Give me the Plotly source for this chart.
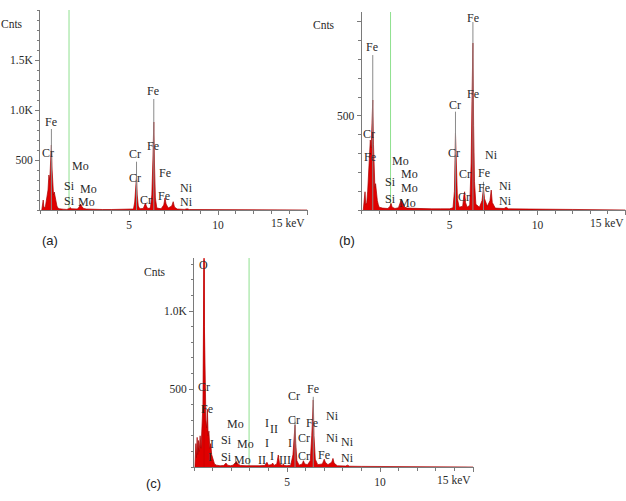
import plotly.graph_objects as go

W, H = 626, 501

# ---------------- data (keV, counts) ----------------
# Panel (a)
energy_a = [0.10, 0.15, 0.18, 0.21, 0.25, 0.30, 0.35, 0.40, 0.45, 0.50, 0.55, 0.60, 0.64, 0.68, 0.72, 0.76,
            0.80, 0.85, 0.90, 0.95, 1.0, 1.1, 1.3, 1.5, 1.65, 1.70, 1.75, 1.9, 2.1, 2.2, 2.28, 2.35, 2.45,
            2.6, 3.0, 3.5, 4.0, 4.5, 5.0, 5.25, 5.32, 5.38, 5.42, 5.46, 5.52, 5.60, 5.8, 5.88, 5.92, 5.97,
            6.05, 6.2, 6.28, 6.34, 6.39, 6.43, 6.48, 6.56, 6.8, 6.95, 7.02, 7.08, 7.2, 7.4, 7.48, 7.55,
            7.7, 8.1, 8.26, 8.4, 9.0, 10.0, 12.0, 15.0]
counts_a = [0, 60, 100, 40, 20, 30, 80, 120, 200, 350, 300, 500, 650, 400, 250, 150,
            180, 120, 60, 40, 20, 12, 8, 6, 15, 25, 12, 8, 10, 30, 60, 35, 15,
            10, 6, 5, 5, 5, 6, 10, 80, 200, 340, 150, 40, 12, 15, 50, 70, 40,
            15, 20, 150, 500, 880, 450, 120, 20, 12, 50, 120, 60, 20, 40, 83, 30,
            10, 6, 12, 5, 4, 3, 2, 0]
tip_e_a = [0.64, 5.42, 6.39]
tip_c_a = [810, 483, 1110]
green_a = 1.63
lab_a = ["Fe", "Cr", "Mo", "Si", "Mo", "Si", "Mo", "Cr", "Cr", "Cr", "Fe", "Fe", "Fe", "Fe", "Ni", "Ni"]
lab_x_a = [0.62, 0.47, 2.27, 1.68, 2.72, 1.64, 2.6, 5.36, 5.34, 5.94, 6.37, 6.33, 7.02, 6.98, 8.24, 8.24]
lab_y_a = [880, 573, 443, 243, 213, 92, 85, 560, 317, 100, 1190, 643, 367, 143, 217, 80]

# Panel (b)
energy_b = [0.10, 0.15, 0.20, 0.24, 0.30, 0.35, 0.40, 0.45, 0.50, 0.55, 0.60, 0.64, 0.68, 0.72, 0.76, 0.80,
            0.85, 0.90, 0.95, 1.0, 1.2, 1.5, 1.62, 1.68, 1.74, 1.9, 2.1, 2.2, 2.27, 2.33, 2.45, 2.6, 3.0,
            3.5, 4.0, 4.5, 5.0, 5.2, 5.28, 5.34, 5.38, 5.45, 5.55, 5.75, 5.82, 5.86, 5.91, 6.0, 6.15, 6.23,
            6.28, 6.33, 6.37, 6.42, 6.5, 6.7, 6.85, 6.93, 6.99, 7.15, 7.3, 7.37, 7.43, 7.6, 8.1, 8.22, 8.35,
            9.0, 10.0, 12.0, 15.0]
counts_b = [0, 60, 97, 30, 40, 100, 180, 280, 372, 330, 480, 585, 350, 220, 120, 140,
            80, 50, 30, 15, 10, 8, 20, 35, 15, 8, 12, 35, 57, 40, 15, 10, 8,
            6, 6, 6, 6, 12, 100, 409, 250, 60, 15, 20, 80, 97, 40, 15, 25, 250,
            600, 888, 450, 150, 30, 15, 50, 117, 60, 20, 50, 106, 40, 10, 8, 15, 6,
            5, 4, 3, 0]
tip_e_b = [0.64, 5.34, 6.33, 6.93]
tip_c_b = [824, 523, 1000, 150]
green_b = 1.65
lab_b = ["Fe", "Cr", "Fe", "Mo", "Mo", "Si", "Mo", "Si", "Mo", "Cr", "Cr", "Cr", "Cr", "Fe", "Fe", "Ni",
         "Fe", "Fe", "Ni", "Ni"]
lab_x_b = [0.59, 0.45, 0.51, 2.2, 2.73, 1.63, 2.73, 1.63, 2.63, 5.34, 5.26, 5.87, 5.8, 6.34, 6.34, 7.37,
           6.94, 6.94, 8.17, 8.17]
lab_y_b = [865, 404, 284, 262, 191, 149, 115, 57, 39, 556, 301, 189, 71, 1020, 615, 292, 195, 119, 130, 49]

# Panel (c)
energy_c = [0.05, 0.10, 0.13, 0.17, 0.20, 0.24, 0.28, 0.33, 0.38, 0.43, 0.48, 0.52, 0.54, 0.56, 0.60, 0.64,
            0.68, 0.72, 0.76, 0.80, 0.85, 0.90, 0.95, 1.0, 1.05, 1.1, 1.2, 1.4, 1.6, 1.72, 1.8, 1.95, 2.1,
            2.2, 2.28, 2.35, 2.5, 2.8, 3.2, 3.5, 3.8, 3.92, 4.0, 4.15, 4.23, 4.3, 4.45, 4.53, 4.6, 4.75, 4.8,
            4.85, 5.0, 5.1, 5.2, 5.32, 5.38, 5.43, 5.47, 5.53, 5.65, 5.82, 5.88, 5.95, 6.1, 6.25, 6.33,
            6.38, 6.41, 6.45, 6.52, 6.65, 6.9, 7.0, 7.06, 7.2, 7.4, 7.47, 7.53, 7.7, 8.15, 8.26, 8.35, 9.0,
            10.0, 12.0, 15.0]
counts_c = [0, 150, 60, 190, 80, 170, 100, 200, 120, 250, 400, 1070, 1330, 900, 350, 300,
            250, 370, 200, 230, 120, 150, 80, 60, 40, 20, 12, 8, 10, 25, 12, 8, 12,
            25, 35, 20, 10, 8, 6, 8, 10, 30, 12, 15, 25, 10, 20, 77, 20, 10, 20,
            10, 8, 8, 12, 80, 200, 270, 150, 40, 12, 20, 40, 20, 15, 40, 200,
            380, 430, 200, 50, 15, 20, 50, 30, 15, 30, 55, 25, 8, 6, 12, 5, 4,
            3, 2, 0]
tip_e_c = [5.43, 6.41]
tip_c_c = [314, 450]
o_line_e = [0.54]
o_line_c = [1340]
green_c = 2.96
lab_c = ["O", "Cr", "Fe", "Mo", "Si", "Mo", "I", "Si", "Mo", "I", "I", "II", "I", "I", "II", "I", "III",
         "Cr", "Fe", "Cr", "Fe", "Ni", "Cr", "Ni", "Ni", "Cr", "Fe", "Ni"]
lab_x_c = [0.49, 0.52, 0.7, 2.23, 1.74, 2.78, 0.96, 1.74, 2.6, 0.86, 3.91, 4.3, 3.91, 5.16, 3.64, 4.18,
           4.89, 5.38, 6.42, 5.38, 6.36, 7.46, 5.93, 7.44, 8.26, 5.93, 7.0, 8.26]
lab_y_c = [1295, 511, 370, 275, 171, 147, 150, 64, 45, 66, 280, 242, 152, 152, 45, 70, 45,
           457, 500, 301, 280, 329, 184, 188, 158, 71, 77, 56]

# y tick labels
yt_a_vals = [500, 1000, 1500]
yt_a_text = ["500", "1.0K", "1.5K"]
yt_b_vals = [500, 1000]
yt_b_text = ["500", ""]
yt_c_vals = [500, 1000]
yt_c_text = ["500", "1.0K"]
xt_vals = [5, 10, 15]
xt_text = ["5", "10", ""]

# ---------------- layout helpers ----------------
def px_x(p):
    return p / W

def px_y(p):
    return 1 - p / H

SERIF = "Liberation Serif"
RED_FILL = "#e00000"
RED_LINE = "#a80000"
TIP = "#8a8a8a"
GREEN = "#8fe08f"
AXIS = "#7a7a7a"

panels = [
    dict(e=energy_a, c=counts_a, te=tip_e_a, tc=tip_c_a, g=green_a, lab=lab_a, lx=lab_x_a, ly=lab_y_a,
         xdom=[px_x(40), px_x(308)], ydom=[px_y(210), px_y(10)], xr=[0, 15.05], yr=[0, 2000],
         ytv=yt_a_vals, ytt=yt_a_text, cnts=(25, 24), plab="(a)", ppos=(50, 240)),
    dict(e=energy_b, c=counts_b, te=tip_e_b, tc=tip_c_b, g=green_b, lab=lab_b, lx=lab_x_b, ly=lab_y_b,
         xdom=[px_x(361.5), px_x(625.5)], ydom=[px_y(210), px_y(12)], xr=[0, 15.0], yr=[0, 1053],
         ytv=yt_b_vals, ytt=yt_b_text, cnts=(337, 25), plab="(b)", ppos=(347, 240)),
    dict(e=energy_c, c=counts_c, te=tip_e_c, tc=tip_c_c, g=green_c, lab=lab_c, lx=lab_x_c, ly=lab_y_c,
         xdom=[px_x(194), px_x(474)], ydom=[px_y(467), px_y(258)], xr=[0, 15.05], yr=[0, 1340],
         ytv=yt_c_vals, ytt=yt_c_text, cnts=(168, 272), plab="(c)", ppos=(153, 483)),
]

fig = go.Figure()
annotations = []
shapes = []
layout_axes = {}

for i, p in enumerate(panels):
    n = "" if i == 0 else str(i + 1)
    xref, yref = "x" + n, "y" + n
    # spectrum fill
    fig.add_trace(go.Scatter(x=p["e"], y=p["c"], mode="lines", fill="tozeroy",
                             fillcolor=RED_FILL, line=dict(color=RED_LINE, width=0.7),
                             xaxis=xref, yaxis=yref, showlegend=False, hoverinfo="skip"))
    # peak tip lines
    tx, ty = [], []
    for e, c in zip(p["te"], p["tc"]):
        tx += [e, e, None]
        ty += [0, c, None]
    fig.add_trace(go.Scatter(x=tx, y=ty, mode="lines", line=dict(color=TIP, width=1),
                             xaxis=xref, yaxis=yref, showlegend=False, hoverinfo="skip"))
    if i == 2:
        ox, oy = [], []
        for e, c in zip(o_line_e, o_line_c):
            ox += [e, e, None]
            oy += [0, c, None]
        fig.add_trace(go.Scatter(x=ox, y=oy, mode="lines", line=dict(color="#d00000", width=1.2),
                                 xaxis=xref, yaxis=yref, showlegend=False, hoverinfo="skip"))
    # green marker line
    shapes.append(dict(type="line", xref=xref, yref=yref + " domain", x0=p["g"], x1=p["g"],
                       y0=0, y1=1, line=dict(color=GREEN, width=1), layer="below"))
    # element labels
    for t, x, y in zip(p["lab"], p["lx"], p["ly"]):
        annotations.append(dict(text=t, x=x, y=y, xref=xref, yref=yref, showarrow=False,
                                xanchor="center", yanchor="middle",
                                font=dict(family=SERIF, size=12, color="#2a2a2a")))
    # "15 keV" label
    annotations.append(dict(text="15 keV", x=15.0, y=0, xref=xref, yref=yref, showarrow=False,
                            xanchor="right", yanchor="top", yshift=-5,
                            font=dict(family=SERIF, size=11.5, color="#2a2a2a")))
    # Cnts
    annotations.append(dict(text="Cnts", x=px_x(p["cnts"][0]), y=px_y(p["cnts"][1]), xref="paper",
                            yref="paper", showarrow=False, xanchor="right", yanchor="middle",
                            font=dict(family=SERIF, size=11.5, color="#2a2a2a")))
    # panel label
    annotations.append(dict(text=p["plab"], x=px_x(p["ppos"][0]), y=px_y(p["ppos"][1]), xref="paper",
                            yref="paper", showarrow=False, xanchor="center", yanchor="middle",
                            font=dict(family="Liberation Sans", size=13, color="#222")))

    layout_axes["xaxis" + n] = dict(domain=p["xdom"], range=p["xr"], anchor=yref, showline=True,
                                    linecolor=AXIS, linewidth=1, showgrid=False, zeroline=False,
                                    tickmode="array", tickvals=xt_vals, ticktext=xt_text,
                                    ticks="outside", ticklen=4, tickcolor=AXIS,
                                    minor=dict(dtick=1, tick0=0, ticks="outside", ticklen=2.5,
                                               tickcolor=AXIS),
                                    tickfont=dict(family=SERIF, size=11.5, color="#2a2a2a"),
                                    fixedrange=True)
    layout_axes["yaxis" + n] = dict(domain=p["ydom"], range=p["yr"], anchor=xref, showline=True,
                                    linecolor=AXIS, linewidth=1, showgrid=False, zeroline=False,
                                    tickmode="array", tickvals=p["ytv"], ticktext=p["ytt"],
                                    ticks="outside", ticklen=4, tickcolor=AXIS,
                                    minor=dict(dtick=100, tick0=0, ticks="outside", ticklen=2.5,
                                               tickcolor=AXIS),
                                    tickfont=dict(family=SERIF, size=11.5, color="#2a2a2a"),
                                    fixedrange=True)

fig.update_layout(width=W, height=H, margin=dict(l=0, r=0, t=0, b=0),
                  paper_bgcolor="white", plot_bgcolor="white",
                  annotations=annotations, shapes=shapes, showlegend=False, **layout_axes)

fig.write_html("out.html", config={"displayModeBar": False})
